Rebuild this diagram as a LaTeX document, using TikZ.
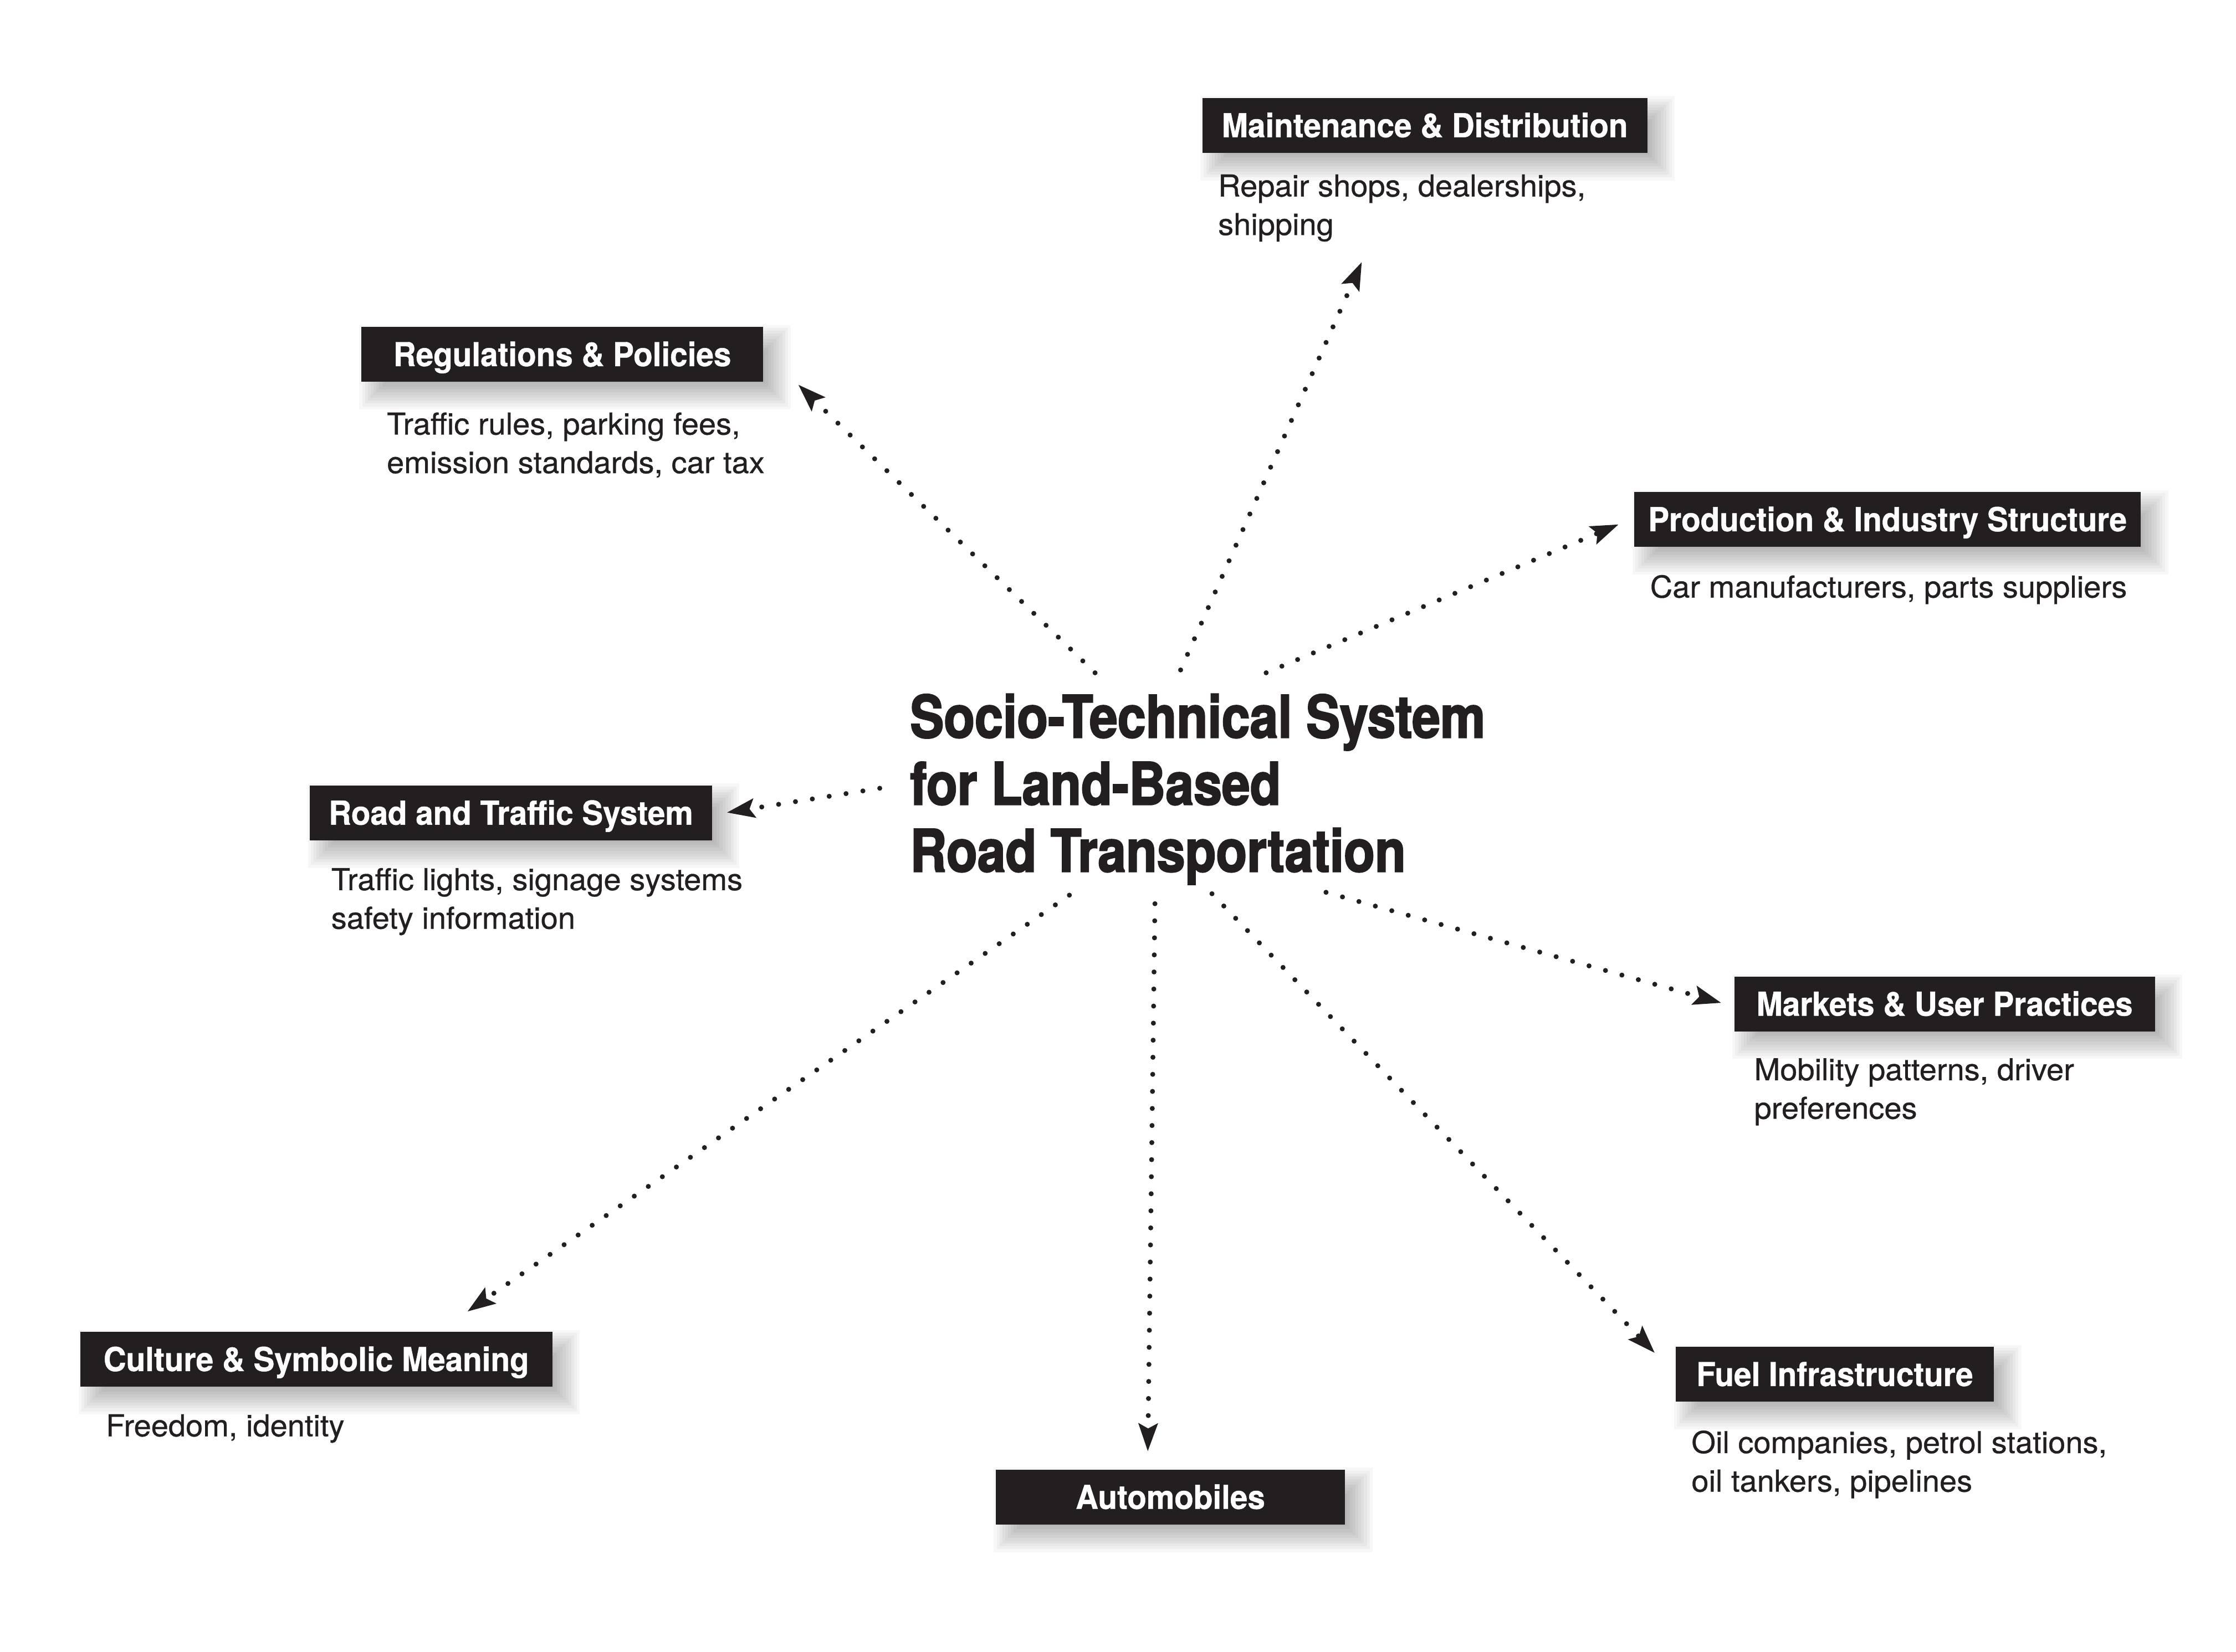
\documentclass[tikz,border=0pt]{standalone}
\usepackage{fontspec}
\setmainfont{TeX Gyre Heros}[FakeStretch=0.95, BoldFeatures={FakeBold=0.8}]
\newfontfamily\descfont{TeX Gyre Heros}[FakeStretch=1.03, FakeBold=0.6]
\newfontfamily\titlefont{TeX Gyre Heros}[FakeStretch=0.862, BoldFeatures={FakeBold=2.2}]
\usetikzlibrary{arrows.meta,backgrounds,calc}
\definecolor{ink}{HTML}{231F20}
\newcommand\dropshade[1]{%
  \begin{scope}[on background layer]
    \foreach \k [evaluate=\k as \a using 19-2*\k, evaluate=\k as \b using 2*\k-1] in {0,...,10}{
      \fill[black,opacity=0.032] ($(#1.north west)+(\a,\a)$) rectangle ($(#1.south east)+(\b,\b)$);
    }
  \end{scope}}
\tikzset{
  lbl/.style={fill=ink, text=white, font=\fontsize{14.9}{18}\selectfont\bfseries,
    inner sep=0pt, minimum height=24.77pt, text height=10.7pt, text depth=0pt, anchor=north west},
  desc/.style={text=ink, font=\descfont\fontsize{13.6}{17.4}\selectfont, align=left, inner sep=0pt, anchor=north west},
  hubtext/.style={text=ink, font=\titlefont\fontsize{26.5}{30.25}\selectfont\bfseries, align=left, inner sep=0pt, anchor=north west},
  conn/.style={ink, line width=2.25pt, line cap=round, dash pattern=on 0pt off 7.7pt,
    -{Stealth[length=12.7pt,width=9pt,inset=2.5pt,line width=0pt]}},
}
\begin{document}
\begin{tikzpicture}[x=0.64325pt,y=-0.64325pt]
\useasboundingbox (0,0) rectangle (1568.2,1158.6);
\begin{scope}[on background layer]
  \fill[white] (0,0) rectangle (1568.2,1158.6);
\end{scope}

% central title
\node[hubtext] (hub) at (638,486.5) {Socio-Technical System\\for Land-Based\\Road Transportation};

% label boxes
\node[lbl, minimum width=200.69pt] (maint) at (843,68.4) {Maintenance \& Distribution};
\node[lbl, minimum width=181.40pt] (reg) at (253,229) {Regulations \& Policies};
\node[lbl, minimum width=228.35pt] (prod) at (1146,344.8) {Production \& Industry Structure};
\node[lbl, minimum width=181.40pt] (road) at (217,550.7) {Road and Traffic System};
\node[lbl, minimum width=189.76pt] (mark) at (1216,684.7) {Markets \& User Practices};
\node[lbl, minimum width=212.92pt] (cult) at (56,934) {Culture \& Symbolic Meaning};
\node[lbl, minimum width=157.60pt] (auto) at (698,1030.7) {Automobiles};
\node[lbl, minimum width=143.44pt] (fuel) at (1175,944.5) {Fuel Infrastructure};

\dropshade{maint}\dropshade{reg}\dropshade{prod}\dropshade{road}
\dropshade{mark}\dropshade{cult}\dropshade{auto}\dropshade{fuel}

% descriptions
\node[desc] (maintd) at (854,122.1) {Repair shops, dealerships,\\shipping};
\node[desc] (regd) at (271,289.1) {Traffic rules, parking fees,\\emission standards, car tax};
\node[desc] (prodd) at (1157,403.1) {Car manufacturers, parts suppliers};
\node[desc] (roadd) at (232,608.7) {Traffic lights, signage systems\\safety information};
\node[desc] (markd) at (1230,742.1) {Mobility patterns, driver\\preferences};
\node[desc] (cultd) at (74,991.9) {Freedom, identity};
\node[desc] (fueld) at (1186,1003.3) {Oil companies, petrol stations,\\oil tankers, pipelines};

% connector end points
\coordinate (s1) at (768,472); \coordinate (t1) at (560,270);
\coordinate (s2) at (828,470); \coordinate (t2) at (955,184);
\coordinate (s3) at (888,472); \coordinate (t3) at (1135,368);
\coordinate (s4) at (617,553); \coordinate (t4) at (510,570);
\coordinate (s5) at (930,626); \coordinate (t5) at (1207,703.5);
\coordinate (s6) at (850,627); \coordinate (t6) at (1160.4,949);
\coordinate (s7) at (810,634); \coordinate (t7) at (805,1018);
\coordinate (s8) at (750,628); \coordinate (t8) at (328,920);

\draw[conn] (s1) -- (t1);
\draw[conn] (s2) -- (t2);
\draw[conn] (s3) -- (t3);
\draw[conn] (s4) -- (t4);
\draw[conn] (s5) -- (t5);
\draw[conn] (s6) -- (t6);
\draw[conn] (s7) -- (t7);
\draw[conn] (s8) -- (t8);
\end{tikzpicture}
\end{document}
